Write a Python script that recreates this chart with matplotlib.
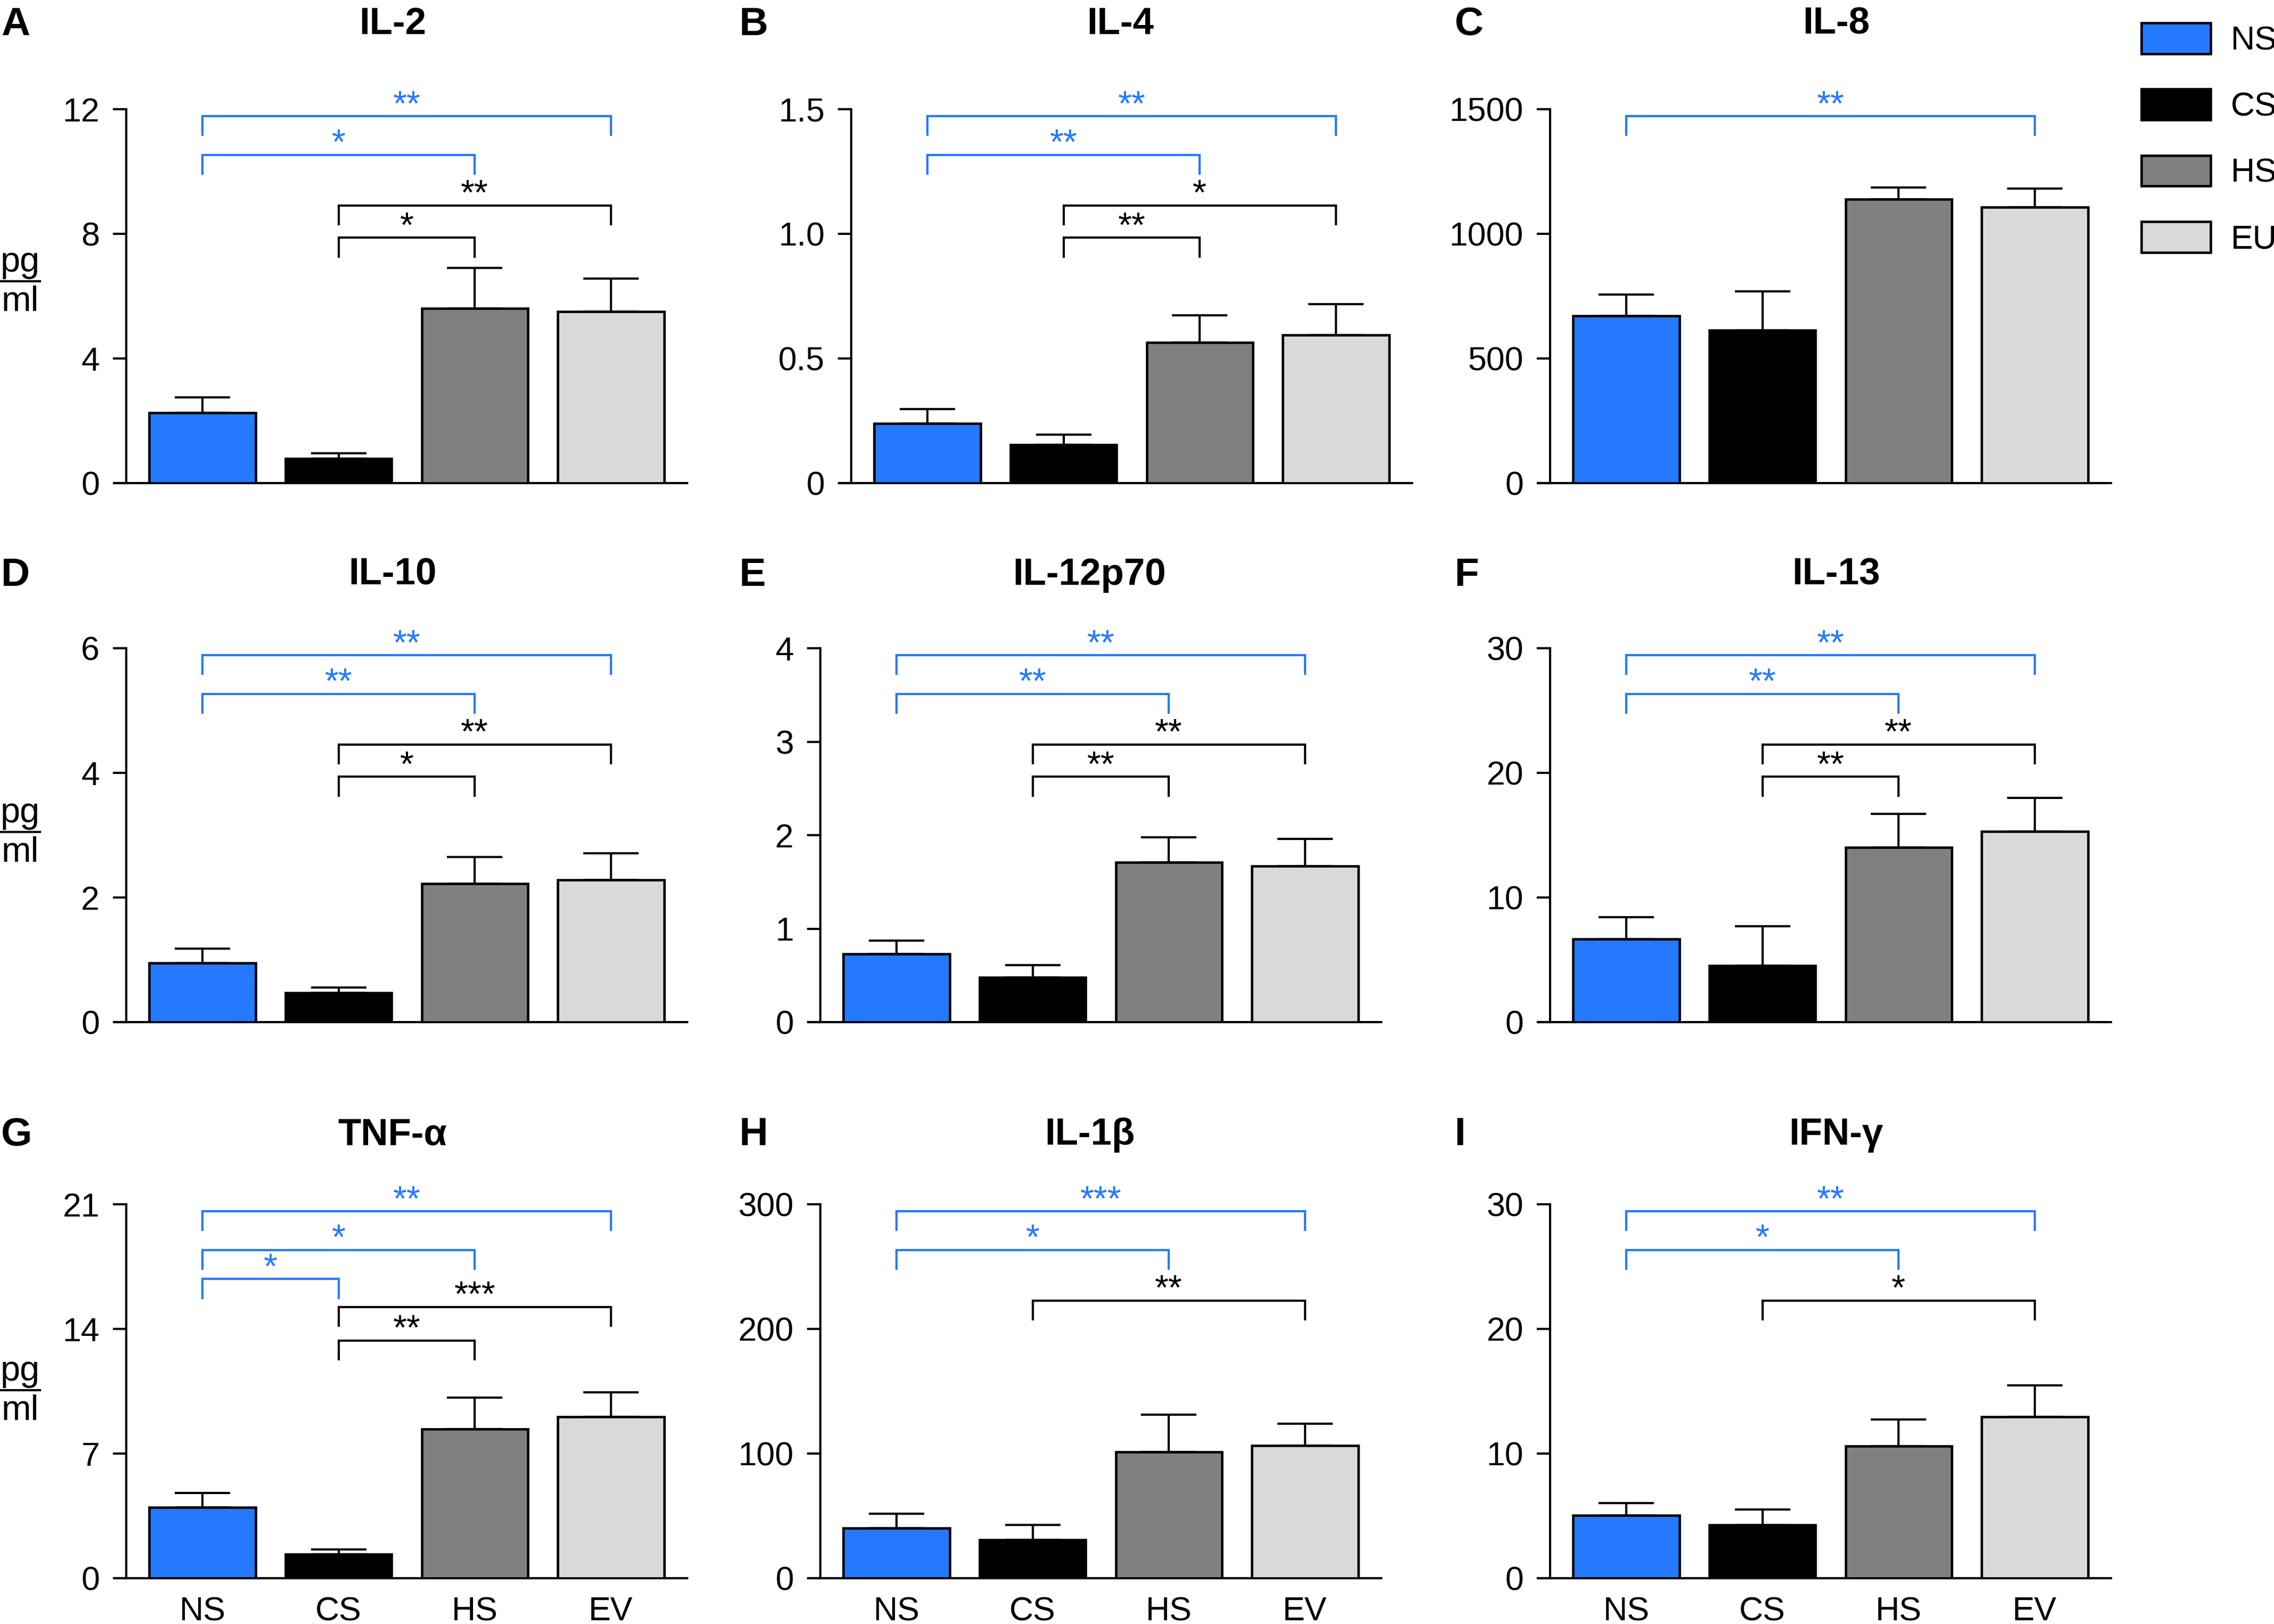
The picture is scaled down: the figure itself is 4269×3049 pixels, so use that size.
import matplotlib
matplotlib.use("Agg")
import matplotlib.pyplot as plt
from matplotlib.lines import Line2D
import matplotlib.transforms as mtransforms

plt.rcParams['font.family'] = ['Liberation Sans Narrow', 'Liberation Sans', 'DejaVu Sans']

# ---------------- data ----------------
groups = ['NS', 'CS', 'HS', 'EV']
legend_labels = ['NS', 'CS', 'HS', 'EU']
titles = ['IL-2', 'IL-4', 'IL-8', 'IL-10', 'IL-12p70', 'IL-13', 'TNF-α', 'IL-1β', 'IFN-γ']
letters = ['A', 'B', 'C', 'D', 'E', 'F', 'G', 'H', 'I']

il2_mean = [2.26, 0.78, 5.61, 5.51]
il2_err = [0.50, 0.17, 1.29, 1.05]
il4_mean = [0.240, 0.153, 0.565, 0.595]
il4_err = [0.056, 0.041, 0.108, 0.122]
il8_mean = [671, 613, 1138, 1106]
il8_err = [86, 156, 48, 76]
il10_mean = [0.945, 0.468, 2.22, 2.28]
il10_err = [0.235, 0.088, 0.43, 0.43]
il12_mean = [0.73, 0.48, 1.71, 1.67]
il12_err = [0.14, 0.13, 0.27, 0.29]
il13_mean = [6.65, 4.55, 14.0, 15.3]
il13_err = [1.75, 3.15, 2.7, 2.7]
tnf_mean = [3.98, 1.34, 8.37, 9.05]
tnf_err = [0.81, 0.29, 1.76, 1.40]
il1b_mean = [40.2, 30.9, 101.2, 106.6]
il1b_err = [11.5, 12.0, 30.1, 17.5]
ifng_mean = [5.03, 4.29, 10.58, 12.96]
ifng_err = [1.01, 1.23, 2.14, 2.52]

means = [il2_mean, il4_mean, il8_mean, il10_mean, il12_mean, il13_mean, tnf_mean, il1b_mean, ifng_mean]
errs = [il2_err, il4_err, il8_err, il10_err, il12_err, il13_err, tnf_err, il1b_err, ifng_err]

il2_ticks = [0, 4, 8, 12]
il4_ticks = [0, 0.5, 1.0, 1.5]
il4_ticklabels = ['0', '0.5', '1.0', '1.5']
il8_ticks = [0, 500, 1000, 1500]
il10_ticks = [0, 2, 4, 6]
il12_ticks = [0, 1, 2, 3, 4]
il13_ticks = [0, 10, 20, 30]
tnf_ticks = [0, 7, 14, 21]
il1b_ticks = [0, 100, 200, 300]
ifng_ticks = [0, 10, 20, 30]
yticks = [il2_ticks, il4_ticks, il8_ticks, il10_ticks, il12_ticks, il13_ticks, tnf_ticks, il1b_ticks, ifng_ticks]

# significance comparisons: (group i, group j, stars, reference group)
sig_il2 = [(0, 3, '**', 'NS'), (0, 2, '*', 'NS'), (1, 3, '**', 'CS'), (1, 2, '*', 'CS')]
sig_il4 = [(0, 3, '**', 'NS'), (0, 2, '**', 'NS'), (1, 3, '*', 'CS'), (1, 2, '**', 'CS')]
sig_il8 = [(0, 3, '**', 'NS')]
sig_il10 = [(0, 3, '**', 'NS'), (0, 2, '**', 'NS'), (1, 3, '**', 'CS'), (1, 2, '*', 'CS')]
sig_il12 = [(0, 3, '**', 'NS'), (0, 2, '**', 'NS'), (1, 3, '**', 'CS'), (1, 2, '**', 'CS')]
sig_il13 = [(0, 3, '**', 'NS'), (0, 2, '**', 'NS'), (1, 3, '**', 'CS'), (1, 2, '**', 'CS')]
sig_tnf = [(0, 3, '**', 'NS'), (0, 2, '*', 'NS'), (0, 1, '*', 'NS'), (1, 3, '***', 'CS'), (1, 2, '**', 'CS')]
sig_il1b = [(0, 3, '***', 'NS'), (0, 2, '*', 'NS'), (1, 3, '**', 'CS')]
sig_ifng = [(0, 3, '**', 'NS'), (0, 2, '*', 'NS'), (1, 3, '*', 'CS')]
sigs = [sig_il2, sig_il4, sig_il8, sig_il10, sig_il12, sig_il13, sig_tnf, sig_il1b, sig_ifng]

# ---------------- style / layout ----------------
W, H = 4269, 3049
DPI = 300
bar_colors = ['#2479FF', '#000000', '#808080', '#D9D9D9']
sig_colors = {'NS': '#2479FF', 'CS': '#000000'}
bracket_level = {(0, 3): 0.981, (0, 2): 0.878, (0, 1): 0.80, (1, 3): 0.742, (1, 2): 0.656}
tnf_level = {(1, 3): 0.725, (1, 2): 0.636}
drop = 0.05

col_left_px = [[237, 1598, 2910], [237, 1540, 2910], [237, 1540, 2910]]
row_top_px = [205, 1217, 2261]
ax_w_px, ax_h_px = 1053, 702
title_y_px = [46, 1080, 2131]
letter_x_px = [2, 1388, 2731]
title_xfrac = [0.475, 0.48, 0.51]
frac_line_px = [528, 1562, 2610]

fig = plt.figure(figsize=(W / DPI, H / DPI), dpi=DPI)

tick_fs = 15
lw = 1.0
bar_handles = None

for k in range(9):
    r, c = divmod(k, 3)
    left = col_left_px[r][c] / W
    bottom = 1 - (row_top_px[r] + ax_h_px) / H
    ax = fig.add_axes([left, bottom, ax_w_px / W, ax_h_px / H])
    x = list(range(len(groups)))
    bars = ax.bar(x, means[k], width=0.78, color=bar_colors, edgecolor='black',
                  linewidth=1.1, zorder=3)
    if bar_handles is None:
        bar_handles = list(bars)
    ax.errorbar(x, means[k], yerr=[[0] * 4, errs[k]], fmt='none', ecolor='black',
                elinewidth=1.0, capsize=12.5, capthick=1.0, zorder=2)
    yt = yticks[k]
    ax.set_ylim(0, yt[-1])
    ax.set_xlim(-0.56, 3.56)
    ax.set_yticks(yt)
    if k == 1:
        ax.set_yticklabels(il4_ticklabels)
    else:
        ax.set_yticklabels([f'{v:g}' for v in yt])
    for s in ['top', 'right']:
        ax.spines[s].set_visible(False)
    for s in ['left', 'bottom']:
        ax.spines[s].set_linewidth(lw)
    ax.tick_params(axis='y', length=6, width=lw, pad=6, labelsize=tick_fs)
    ax.set_xticks(x)
    if r == 2:
        ax.set_xticklabels(groups, fontsize=tick_fs)
        ax.tick_params(axis='x', length=0, pad=8)
    else:
        ax.set_xticklabels([])
        ax.tick_params(axis='x', length=0)
    # bottom spine extension to the left
    ax.plot([-0.0237, 0], [0, 0], transform=ax.transAxes, color='black', lw=lw,
            clip_on=False, solid_capstyle='butt')

    # significance brackets
    trans = ax.get_xaxis_transform()
    for (i, j, stars, ref) in sigs[k]:
        lvl = bracket_level[(i, j)]
        if k == 6 and (i, j) in tnf_level:
            lvl = tnf_level[(i, j)]
        color = sig_colors[ref]
        ax.plot([i, i, j, j], [lvl - drop, lvl, lvl, lvl - drop], transform=trans,
                color=color, lw=1.0, clip_on=False, solid_joinstyle='miter')
        ax.text((i + j) / 2, lvl + 0.003, stars, transform=trans, ha='center', va='baseline',
                color=color, fontsize=16, family=['Liberation Sans', 'DejaVu Sans'])

    # title
    ttrans = mtransforms.blended_transform_factory(ax.transAxes, fig.transFigure)
    ax.text(title_xfrac[c], 1 - title_y_px[r] / H, titles[k], transform=ttrans,
            ha='center', va='center', fontsize=17, fontweight='bold')
    # panel letter
    fig.text(letter_x_px[c] / W, 1 - title_y_px[r] / H, letters[k], ha='left', va='center',
             fontsize=18, fontweight='bold', family=['Liberation Sans', 'DejaVu Sans'])

# pg/ml fraction labels
for r in range(3):
    yline = 1 - frac_line_px[r] / H
    fig.add_artist(Line2D([0, 75 / W], [yline, yline], transform=fig.transFigure,
                          color='black', lw=1.0))
    fig.text(38 / W, yline + 4 / H, 'pg', ha='center', va='bottom', fontsize=16)
    fig.text(38 / W, yline - 8 / H, 'ml', ha='center', va='top', fontsize=16)

leg = fig.legend(bar_handles, legend_labels, loc='upper left',
                 bbox_to_anchor=(4020 / W, 1 - 43 / H), frameon=False, borderpad=0,
                 borderaxespad=0, handlelength=2.08, handleheight=1.04,
                 handletextpad=0.6, labelspacing=0.98,
                 prop={'family': ['Liberation Sans', 'DejaVu Sans'], 'size': 15})

fig.savefig('out.png', dpi=DPI)
